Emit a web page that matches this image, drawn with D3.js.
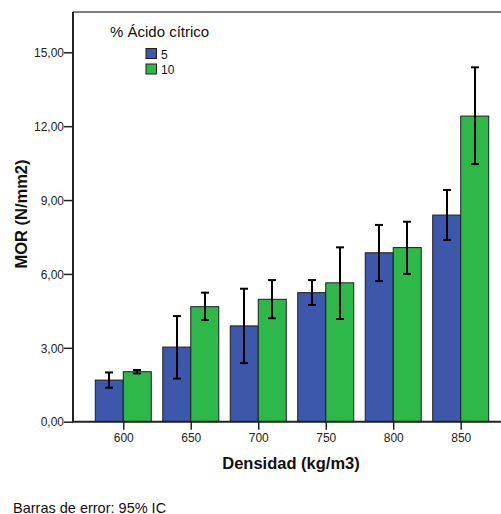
<!DOCTYPE html>
<html>
<head>
<meta charset="utf-8">
<script src="https://cdn.jsdelivr.net/npm/d3@7"></script>
<style>
  html, body { margin: 0; padding: 0; background: #fff; }
  svg { display: block; font-family: "Liberation Sans", Arial, sans-serif; }
</style>
</head>
<body>
<svg id="chart" width="501" height="514"></svg>
<script>
// Densidad categories and citric-acid groups
const densidades = ["600", "650", "700", "750", "800", "850"];
const grupos = ["5", "10"];

// Mean MOR (N/mm2) per density, per group
const mor5  = [1.69, 3.03, 3.89, 5.24, 6.86, 8.39];
const mor10 = [2.03, 4.67, 4.97, 5.64, 7.07, 12.41];

// 95% CI bounds
const ic5Low   = [1.38, 1.75, 2.38, 4.74, 5.71, 7.38];
const ic5High  = [2.00, 4.29, 5.40, 5.75, 7.99, 9.41];
const ic10Low  = [1.96, 4.13, 4.20, 4.17, 6.00, 10.46];
const ic10High = [2.10, 5.24, 5.75, 7.08, 8.12, 14.39];

const yTicks = [0, 3, 6, 9, 12, 15];
const colores = { "5": "#3d57aa", "10": "#2eb84a" };

const svg = d3.select("#chart");
const plotLeft = 73, plotTop = 12, plotRight = 511, plotBottom = 421.7;

const x = d3.scalePoint().domain(densidades).range([plotLeft, plotRight]).padding(0.745);
const xg = d3.scaleBand().domain(grupos).range([-28, 28]).paddingInner(0);
const y = d3.scaleLinear().domain([0, 15]).range([plotBottom, 52.3]);

const rows = [];
densidades.forEach((d, i) => {
  rows.push({ d, g: "5", v: mor5[i], lo: ic5Low[i], hi: ic5High[i] });
  rows.push({ d, g: "10", v: mor10[i], lo: ic10Low[i], hi: ic10High[i] });
});

// frame (top edge)
svg.append("line")
  .attr("x1", plotLeft).attr("x2", 501).attr("y1", plotTop).attr("y2", plotTop)
  .attr("stroke", "#555").attr("stroke-width", 1.5);

// bars
svg.append("g").selectAll("rect").data(rows).join("rect")
  .attr("x", r => x(r.d) + xg(r.g))
  .attr("width", xg.bandwidth())
  .attr("y", r => y(r.v))
  .attr("height", r => y(0) - y(r.v))
  .attr("fill", r => colores[r.g])
  .attr("stroke", "#1e1e1e").attr("stroke-width", 1);

// error bars
const eb = svg.append("g").attr("stroke", "#000").attr("stroke-width", 2);
rows.forEach(r => {
  const cx = Math.round(x(r.d) + xg(r.g) + xg.bandwidth() / 2);
  eb.append("line").attr("x1", cx).attr("x2", cx).attr("y1", y(r.lo)).attr("y2", y(r.hi));
  eb.append("line").attr("x1", cx - 4).attr("x2", cx + 4).attr("y1", y(r.lo)).attr("y2", y(r.lo));
  eb.append("line").attr("x1", cx - 4).attr("x2", cx + 4).attr("y1", y(r.hi)).attr("y2", y(r.hi));
});

// y axis
const yAxis = svg.append("g").attr("transform", `translate(${plotLeft},0)`)
  .call(d3.axisLeft(y).tickValues(yTicks).tickSize(9).tickSizeOuter(0)
    .tickFormat(v => d3.format(".2f")(v).replace(".", ",")));
yAxis.select(".domain").remove();
yAxis.selectAll(".tick line").attr("stroke", "#222").attr("stroke-width", 1.5);
yAxis.selectAll("text").attr("font-size", 12).attr("fill", "#222").attr("x", -9).attr("dy", "0.35em")
  .attr("font-family", "Liberation Sans, Arial, sans-serif");
svg.append("line").attr("x1", plotLeft).attr("x2", plotLeft).attr("y1", plotTop).attr("y2", plotBottom)
  .attr("stroke", "#222").attr("stroke-width", 2);

// x axis
const xAxis = svg.append("g").attr("transform", `translate(0,${plotBottom})`)
  .call(d3.axisBottom(x).tickSize(8).tickSizeOuter(0));
xAxis.select(".domain").remove();
xAxis.selectAll(".tick line").attr("stroke", "#222").attr("stroke-width", 1.5);
xAxis.selectAll("text").attr("font-size", 12).attr("fill", "#222").attr("y", 11.5).attr("dy", "0.71em")
  .attr("font-family", "Liberation Sans, Arial, sans-serif");
svg.append("line").attr("x1", plotLeft - 1).attr("x2", 501).attr("y1", plotBottom).attr("y2", plotBottom)
  .attr("stroke", "#222").attr("stroke-width", 2);

// titles
svg.append("text").attr("x", 291).attr("y", 469).attr("text-anchor", "middle")
  .attr("font-size", 16.5).attr("font-weight", "bold").attr("fill", "#111")
  .text("Densidad (kg/m3)");
svg.append("text").attr("transform", "translate(27,214) rotate(-90)").attr("text-anchor", "middle")
  .attr("font-size", 16.5).attr("font-weight", "bold").attr("fill", "#111")
  .text("MOR (N/mm2)");
svg.append("text").attr("x", 13).attr("y", 512.5)
  .attr("font-size", 14.5).attr("fill", "#111")
  .text("Barras de error: 95% IC");

// legend
const lg = svg.append("g");
lg.append("text").attr("x", 110).attr("y", 37).attr("font-size", 15).attr("fill", "#111")
  .text("% Ácido cítrico");
grupos.forEach((g, i) => {
  lg.append("rect").attr("x", 146).attr("y", 48.5 + i * 15.5).attr("width", 10.5).attr("height", 10)
    .attr("fill", colores[g]).attr("stroke", "#1e1e1e").attr("stroke-width", 1);
  lg.append("text").attr("x", 161).attr("y", 58.5 + i * 15.5).attr("font-size", 12).attr("fill", "#111")
    .text(g);
});
</script>
</body>
</html>
